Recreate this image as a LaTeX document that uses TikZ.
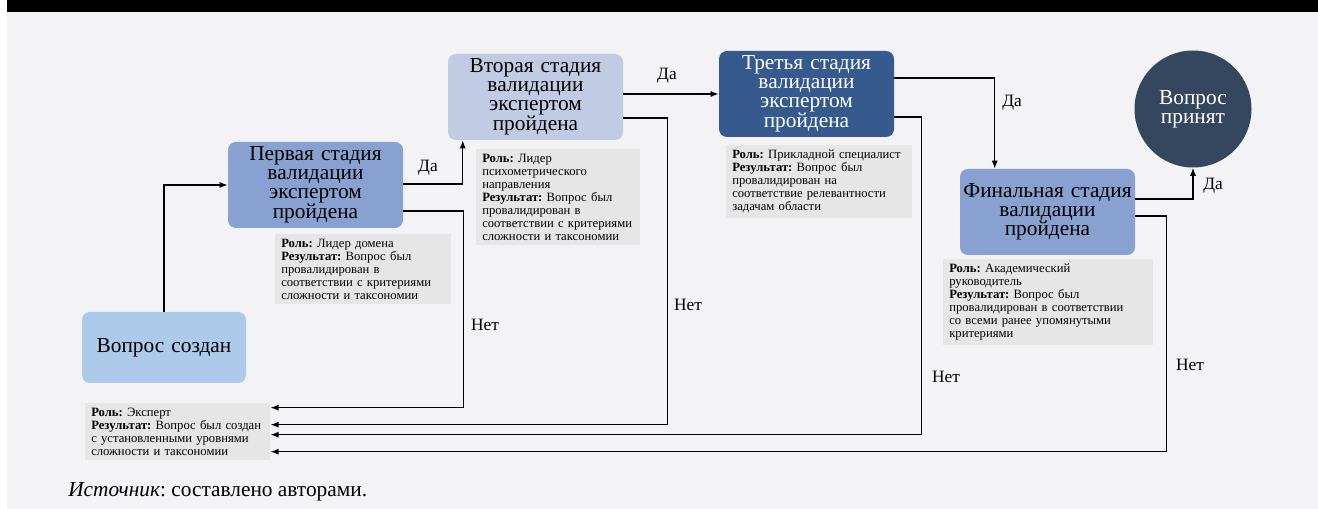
\documentclass[tikz,border=0pt]{standalone}
\usepackage{fontspec}
\setmainfont{Liberation Serif}
\frenchspacing
\usetikzlibrary{arrows.meta,calc}
\definecolor{pagebg}{HTML}{F3F3F5}
\definecolor{rolegray}{HTML}{E6E6E6}
\definecolor{createdblue}{HTML}{AECAEB}
\definecolor{midblue}{HTML}{89A1D0}
\definecolor{paleblue}{HTML}{C2CBE4}
\definecolor{darkblue}{HTML}{365A8E}
\definecolor{nightblue}{HTML}{34475F}

\begin{document}
\begin{tikzpicture}[x=0.75pt,y=-0.75pt]
\tikzstyle{stage}=[rectangle,rounded corners=6pt,minimum width=131.25pt,minimum height=64.5pt,inner xsep=1pt,text width=129pt,align=center,font=\fontsize{16}{14.2}\selectfont]
\tikzstyle{role}=[rectangle,fill=rolegray,anchor=north west,align=left,inner xsep=4.5pt,inner ysep=3.5pt,font=\fontsize{9.5}{9.75}\selectfont]
\tikzstyle{link}=[line width=1pt,-{Latex[length=6pt,width=4.5pt]}]
\tikzstyle{answer}=[font=\fontsize{13}{13}\selectfont,inner sep=0pt]
% page and top band
\useasboundingbox (0,0) rectangle (1318,509);
\fill[pagebg] (7,12) rectangle (1318,509);
\fill[black] (7,0) rectangle (1318,12);
% stages
\node [stage,fill=createdblue,minimum width=123pt,minimum height=53.25pt,text width=121pt] (created) at (164,347.5) {Вопрос создан};
\node [stage,fill=midblue] (first) at (315.5,185) {Первая стадия\\валидации\\экспертом\\пройдена};
\node [stage,fill=paleblue] (second) at (535.5,97) {Вторая стадия\\валидации\\экспертом\\пройдена};
\node [stage,fill=darkblue,text=white] (third) at (806.5,94) {Третья стадия\\валидации\\экспертом\\пройдена};
\node [stage,fill=midblue] (final) at (1047.5,212) {Финальная стадия\\валидации\\пройдена};
\node [circle,fill=nightblue,text=white,minimum size=87.75pt,align=center,font=\fontsize{16}{14.2}\selectfont] (accepted) at (1193,109) {Вопрос\\принят};
% roles
\node [role,text width=129.75pt] (role0) at (85,403) {\textbf{Роль:} Эксперт\\\textbf{Результат:} Вопрос был создан\\с установленными уровнями\\сложности и таксономии};
\node [role,text width=123pt] (role1) at (275,234) {\textbf{Роль:} Лидер домена\\\textbf{Результат:} Вопрос был\\провалидирован в\\соответствии с критериями\\сложности и таксономии};
\node [role,text width=114pt] (role2) at (476,149) {\textbf{Роль:} Лидер\\психометрического\\направления\\\textbf{Результат:} Вопрос был\\провалидирован в\\соответствии с критериями\\сложности и таксономии};
\node [role,text width=130.5pt] (role3) at (726,145) {\textbf{Роль:} Прикладной специалист\\\textbf{Результат:} Вопрос был\\провалидирован на\\соответствие релевантности\\задачам области};
\node [role,text width=148.5pt] (role4) at (943,259) {\textbf{Роль:} Академический\\руководитель\\\textbf{Результат:} Вопрос был\\провалидирован в соответствии\\со всеми ранее упомянутыми\\критериями};
% yes branches
\draw [link] (created.north) |- (first.west);
\draw [link] ($(first.east)+(0,-1)$) -| ($(second.south west)+(15,0)$);
\draw [link] (second.east |- third.west) -- (third.west);
\draw [link] ($(third.east)+(0,-16)$) -| ($(final.north west)+(35,0)$);
\draw [link] ($(final.east)+(0,-13)$) -| (accepted.south);
\node [answer] (yes1) at (428,168) {Да};
\node [answer] (yes2) at (667,76) {Да};
\node [answer] (yes3) at (1012,103) {Да};
\node [answer] (yes4) at (1213,186) {Да};
% no branches
\draw [link] ($(first.east)+(0,26)$) -- ++(60,0) |- ($(role0.east)+(0,-24)$);
\draw [link] ($(second.east)+(0,21)$) -- ++(44,0) |- ($(role0.east)+(0,-7)$);
\draw [link] ($(third.east)+(0,23)$) -- ++(27,0) |- ($(role0.east)+(0,3)$);
\draw [link] ($(final.east)+(0,4)$) -- ++(31,0) |- ($(role0.east)+(0,20)$);
\node [answer] (no1) at (485,325) {Нет};
\node [answer] (no2) at (688,305) {Нет};
\node [answer] (no3) at (946,377) {Нет};
\node [answer] (no4) at (1190,365) {Нет};
% source
\node [anchor=base west,inner sep=0pt,font=\fontsize{16}{16}\selectfont] (source) at (68,497) {\textit{Источник}: составлено авторами.};
\end{tikzpicture}
\end{document}
